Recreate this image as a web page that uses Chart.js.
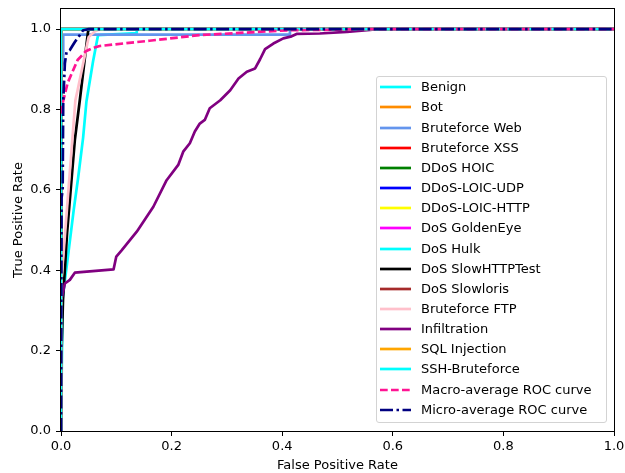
<!DOCTYPE html>
<html><head><meta charset="utf-8">
<script src="https://cdn.jsdelivr.net/npm/chart.js@4.4.0/dist/chart.umd.min.js"></script>
<style>
html,body{margin:0;padding:0;background:#fff;}
#wrap{position:relative;width:625px;height:473px;overflow:hidden;}
#c{position:absolute;left:0;top:0;}
#legend{position:absolute;left:376px;top:76px;width:229px;height:345px;border:1px solid #d3d3d3;border-radius:3px;background:#fff;font-family:'DejaVu Sans',sans-serif;font-size:13px;color:#000;}
.row{position:absolute;left:0;height:20px;line-height:20px;white-space:nowrap;width:229px;}
.row svg{position:absolute;left:3px;top:0;}
.row span{position:absolute;left:44px;top:0;}
</style></head>
<body>
<div id="wrap"><canvas id="c" width="625" height="473"></canvas><div id="legend"></div></div>
<script>
// ---- data ----
const classNames = ['Benign','Bot','Bruteforce Web','Bruteforce XSS','DDoS HOIC','DDoS-LOIC-UDP','DDoS-LOIC-HTTP','DoS GoldenEye','DoS Hulk','DoS SlowHTTPTest','DoS Slowloris','Bruteforce FTP','Infiltration','SQL Injection','SSH-Bruteforce'];
const classColors = ['#00ffff','#ff8c00','#6495ed','#ff0000','#008000','#0000ff','#ffff00','#ff00ff','#00ffff','#000000','#a52a2a','#ffc0cb','#800080','#ffa500','#00ffff'];

const perfectFpr = [0, 0, 1];
const perfectTpr = [0, 1, 1];

const benignFpr = [0, 0.003, 0.014, 0.023, 0.031, 0.040, 0.046, 0.058, 0.067, 0.137, 0.137, 1];
const benignTpr = [0, 0.33, 0.45, 0.55, 0.63, 0.73, 0.82, 0.92, 0.985, 0.990, 1, 1];

const bfWebFpr = [0, 0, 0.004, 0.004, 0.414, 0.414, 1];
const bfWebTpr = [0, 0.90, 0.92, 0.986, 0.986, 1, 1];

const slowHttpFpr = [0, 0.001, 0.0036, 0.011, 0.025, 0.034, 0.049, 0.052, 1];
const slowHttpTpr = [0, 0.20, 0.326, 0.493, 0.724, 0.823, 0.995, 1, 1];

const bfFtpFpr = [0, 0, 0.001, 0.026, 0.030, 0.050, 0.060, 0.070, 1];
const bfFtpTpr = [0, 0.35, 0.37, 0.823, 0.848, 0.980, 0.993, 1, 1];

const infilFpr = [0, 0, 0.002, 0.007, 0.016, 0.025, 0.095, 0.100, 0.110, 0.137, 0.143, 0.167, 0.191, 0.212, 0.221, 0.233, 0.242, 0.251, 0.260, 0.269, 0.288, 0.306, 0.321, 0.336, 0.351, 0.360, 0.369, 0.384, 0.402, 0.417, 0.426, 0.468, 0.517, 0.559, 0.570, 1];
const infilTpr = [0, 0.33, 0.334, 0.367, 0.376, 0.394, 0.402, 0.434, 0.450, 0.496, 0.508, 0.558, 0.624, 0.662, 0.695, 0.716, 0.745, 0.765, 0.774, 0.803, 0.823, 0.848, 0.877, 0.894, 0.902, 0.925, 0.950, 0.964, 0.977, 0.982, 0.988, 0.989, 0.993, 0.998, 1, 1];

const macroFpr = [0, 0.002, 0.012, 0.030, 0.045, 0.058, 0.070, 0.160, 0.250, 0.410, 0.560, 1];
const macroTpr = [0.79, 0.81, 0.866, 0.923, 0.945, 0.953, 0.958, 0.971, 0.985, 0.997, 1, 1];

const microFpr = [0, 0.001, 0.003, 0.004, 0.007, 0.010, 0.016, 0.025, 0.034, 0.040, 0.050, 1];
const microTpr = [0, 0.58, 0.60, 0.82, 0.915, 0.943, 0.948, 0.968, 0.985, 0.997, 1, 1];

const xTicks = [0, 0.2, 0.4, 0.6, 0.8, 1.0];
const xTickLabels = ['0.0','0.2','0.4','0.6','0.8','1.0'];
const yTicks = [0, 0.2, 0.4, 0.6, 0.8, 1.0];
const yTickLabels = ['0.0','0.2','0.4','0.6','0.8','1.0'];

// ---- build ----
const classCurves = {
  'Benign': [benignFpr, benignTpr],
  'Bruteforce Web': [bfWebFpr, bfWebTpr],
  'DoS SlowHTTPTest': [slowHttpFpr, slowHttpTpr],
  'Bruteforce FTP': [bfFtpFpr, bfFtpTpr],
  'Infiltration': [infilFpr, infilTpr]
};
const toPts = (xs, ys) => xs.map((x, i) => ({x: x, y: ys[i]}));

const datasets = classNames.map((name, i) => {
  const c = classCurves[name] || [perfectFpr, perfectTpr];
  return {label: name, data: toPts(c[0], c[1]), borderColor: classColors[i], dash: []};
});
datasets.push({label: 'Macro-average ROC curve', data: toPts(macroFpr, macroTpr), borderColor: '#ff1493', dash: [7.7, 3.3]});
datasets.push({label: 'Micro-average ROC curve', data: toPts(microFpr, microTpr), borderColor: '#000080', dash: [13, 3.5, 2.5, 3.5]});

const N = datasets.length;
const chartDatasets = datasets.map((d, i) => ({
  label: d.label, data: d.data, borderColor: d.borderColor, backgroundColor: d.borderColor,
  borderWidth: 2.7, borderDash: d.dash, showLine: true, pointRadius: 0, fill: false,
  tension: 0, borderJoinStyle: 'round', borderCapStyle: d.dash.length ? 'butt' : 'square',
  order: N - i, clip: 0
}));

const FONT = {family: "'DejaVu Sans', sans-serif", size: 13};

const framePlugin = {
  id: 'frame',
  afterDraw(chart) {
    const {ctx, chartArea: a} = chart;
    ctx.save();
    ctx.strokeStyle = '#000';
    ctx.lineWidth = 1;
    ctx.strokeRect(Math.round(a.left) - 0.5, Math.round(a.top) - 0.5, Math.round(a.right - a.left) + 1, Math.round(a.bottom - a.top) + 1);
    ctx.restore();
  }
};

new Chart(document.getElementById('c'), {
  type: 'scatter',
  data: {datasets: chartDatasets},
  options: {
    responsive: false, animation: false, devicePixelRatio: 1,
    layout: {padding: {left: 0, top: 9, right: 11, bottom: 0}},
    plugins: {legend: {display: false}, tooltip: {enabled: false}},
    events: [],
    scales: {
      x: {
        type: 'linear', min: 0, max: 1,
        afterBuildTicks: s => { s.ticks = xTicks.map(v => ({value: v})); },
        afterFit: s => { s.height = 42; s.paddingLeft = 0; s.paddingRight = 0; },
        ticks: {callback: (v, i) => xTickLabels[i], padding: 3, color: '#000', font: FONT, maxRotation: 0, autoSkip: false},
        grid: {drawOnChartArea: false, tickLength: 5, tickColor: '#000', tickWidth: 1},
        border: {display: false},
        title: {display: true, text: 'False Positive Rate', color: '#000', font: FONT, padding: {top: 0, bottom: 0}}
      },
      y: {
        type: 'linear', min: 0, max: 1.05,
        afterBuildTicks: s => { s.ticks = yTicks.map(v => ({value: v})); },
        afterFit: s => { s.width = 61; s.paddingTop = 0; s.paddingBottom = 0; },
        ticks: {callback: (v, i) => yTickLabels[i], padding: 5, color: '#000', font: FONT, autoSkip: false},
        grid: {drawOnChartArea: false, tickLength: 5, tickColor: '#000', tickWidth: 1},
        border: {display: false},
        title: {display: true, text: 'True Positive Rate', color: '#000', font: FONT, padding: {top: 11, bottom: 0}}
      }
    }
  },
  plugins: [framePlugin]
});

// ---- legend (built from the same datasets) ----
const leg = document.getElementById('legend');
datasets.forEach((d, i) => {
  const row = document.createElement('div');
  row.className = 'row';
  row.style.top = (0.3 + i * 20.15) + 'px';
  const dash = d.dash.length ? ` stroke-dasharray="${d.dash.join(' ')}"` : '';
  row.innerHTML = `<svg width="31" height="20"><line x1="0" y1="10" x2="31" y2="10" stroke="${d.borderColor}" stroke-width="2.7"${dash}/></svg><span>${d.label}</span>`;
  leg.appendChild(row);
});
</script>
</body></html>
